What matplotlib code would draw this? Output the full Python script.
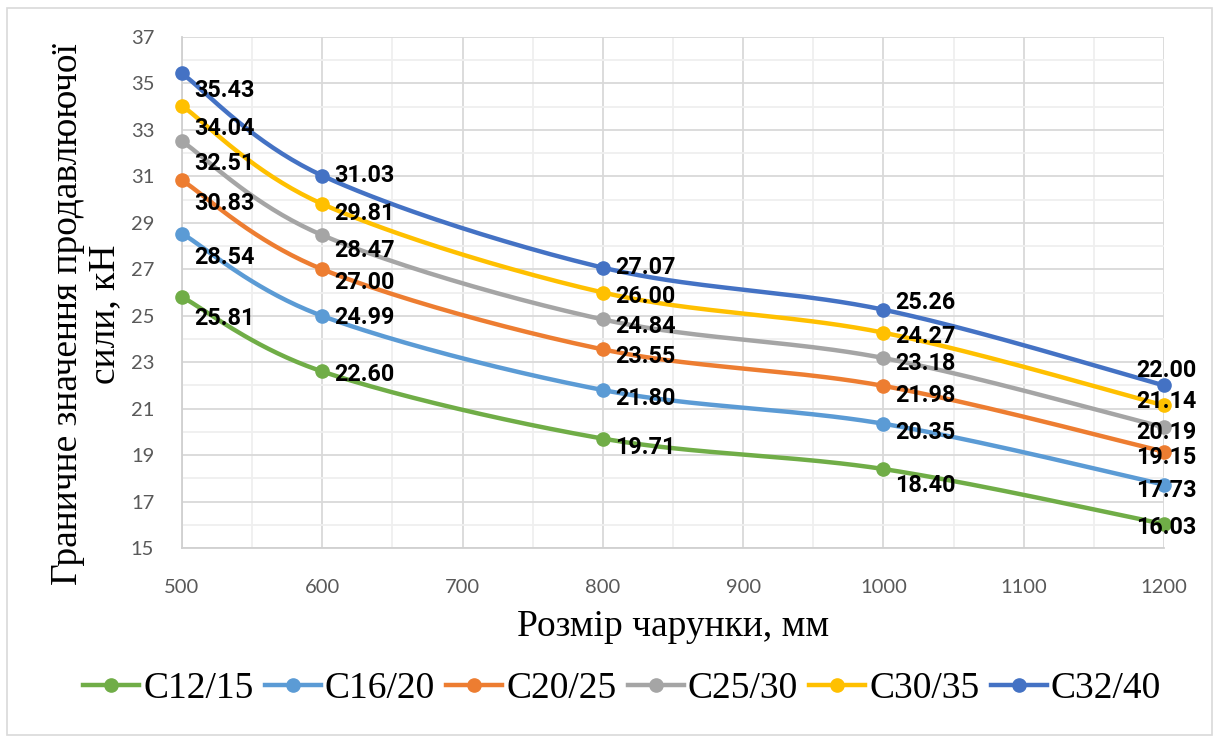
import numpy as np
import matplotlib
matplotlib.use("Agg")
import matplotlib.pyplot as plt
from matplotlib.lines import Line2D
from matplotlib.patches import Rectangle

# Mesh size (mm) and punching shear capacity (kN) per concrete class
mesh_size = [500, 600, 800, 1000, 1200]
series_names = ["C12/15", "C16/20", "C20/25", "C25/30", "C30/35", "C32/40"]
c12_15 = [25.81, 22.60, 19.71, 18.40, 16.03]
c16_20 = [28.54, 24.99, 21.80, 20.35, 17.73]
c20_25 = [30.83, 27.00, 23.55, 21.98, 19.15]
c25_30 = [32.51, 28.47, 24.84, 23.18, 20.19]
c30_35 = [34.04, 29.81, 26.00, 24.27, 21.14]
c32_40 = [35.43, 31.03, 27.07, 25.26, 22.00]
all_series = [c12_15, c16_20, c20_25, c25_30, c30_35, c32_40]

colors = ["#70AD47", "#5B9BD5", "#ED7D31", "#A5A5A5", "#FFC000", "#4472C4"]

# vertical shift of each value label in pixels (positive = downward)
label_dy = [
    [22, 3, 9, 16, 3],
    [24, 2, 8, 9, 6],
    [23, 13, 7, 10, 6],
    [22, 15, 7, 5, 5],
    [23, 9, 4, 4, -4],
    [17, 0, 0, -7, -15],
]

LABEL_FONT = dict(fontsize=16.8, fontweight="bold", family="Roboto", color="black")


def smooth_curve(xs, ys, n=40):
    """Cubic Bezier smoothing through every point (spreadsheet-style)."""
    pts = np.column_stack([xs, ys]).astype(float)
    ext = np.vstack([pts[0], pts, pts[-1]])
    t = np.linspace(0, 1, n)[:, None]
    parts = []
    for i in range(len(pts) - 1):
        p0, p1, p2, p3 = ext[i], ext[i + 1], ext[i + 2], ext[i + 3]
        c1 = p1 + (p2 - p0) / 6.0
        c2 = p2 - (p3 - p1) / 6.0
        b = ((1 - t) ** 3) * p1 + 3 * ((1 - t) ** 2) * t * c1 \
            + 3 * (1 - t) * t ** 2 * c2 + t ** 3 * p2
        parts.append(b if i == 0 else b[1:])
    seg = np.vstack(parts)
    return seg[:, 0], seg[:, 1]


fig = plt.figure(figsize=(12.19, 7.42), dpi=100)
ax = fig.add_axes([182 / 1219, 1 - 548 / 742, 982 / 1219, 511 / 742])

for ys, col, name, dys in zip(all_series, colors, series_names, label_dy):
    sx, sy = smooth_curve(mesh_size, ys)
    ax.plot(sx, sy, color=col, lw=3.2, solid_capstyle="round", zorder=3,
            clip_on=False)
    ax.plot(mesh_size, ys, "o", color=col, ms=9.5, zorder=4, clip_on=False)
    for j, (x, y) in enumerate(zip(mesh_size, ys)):
        last = j == len(mesh_size) - 1
        ax.annotate(f"{y:.2f}", (x, y),
                    xytext=(2 if last else 12, -dys[j]),
                    textcoords="offset pixels",
                    ha="center" if last else "left", va="center",
                    zorder=5, **LABEL_FONT)

ax.set_xlim(500, 1200)
ax.set_ylim(15, 37)
ax.set_xticks(range(500, 1201, 100))
ax.set_yticks(range(15, 38, 2))
ax.set_xticks(range(550, 1200, 100), minor=True)
ax.set_yticks(range(16, 37, 2), minor=True)
ax.grid(which="major", color="#D9D9D9", lw=1.3, zorder=0)
ax.grid(which="minor", color="#EFEFEF", lw=1.3, zorder=0)
ax.set_axisbelow(True)
ax.tick_params(which="both", length=0)
ax.tick_params(axis="x", pad=22, labelsize=14.5, labelcolor="#595959")
ax.tick_params(axis="y", pad=20, labelsize=14.5, labelcolor="#595959")
for lbl in ax.get_xticklabels() + ax.get_yticklabels():
    lbl.set_family("Lato")
for side in ["top", "right"]:
    ax.spines[side].set_visible(False)
for side in ["left", "bottom"]:
    ax.spines[side].set_color("#D0D0D0")
    ax.spines[side].set_linewidth(1.3)

ax.set_xlabel("Розмір чарунки, мм", family="Liberation Serif", fontsize=27,
              labelpad=10)
fig.text(86 / 1219, 1 - 314 / 742, "Граничне значення продавлюючої\nсили, кН",
         rotation=90, ha="center", va="center", family="Liberation Serif",
         fontsize=27, linespacing=1.1)

handles = [Line2D([0], [0], color=c, lw=3.2, marker="o", ms=9.5) for c in colors]
fig.legend(handles, series_names, loc="center",
           bbox_to_anchor=(622 / 1219, 1 - 689 / 742),
           ncol=6, frameon=False, prop={"family": "Liberation Serif", "size": 27},
           handlelength=1.5, handletextpad=0.1, columnspacing=0.3)

fig.add_artist(Rectangle((7 / 1219, 7 / 742), 1205 / 1219, 727 / 742,
                         transform=fig.transFigure, fill=False,
                         edgecolor="#D9D9D9", lw=1.2))

fig.savefig("out.png", dpi=100)
